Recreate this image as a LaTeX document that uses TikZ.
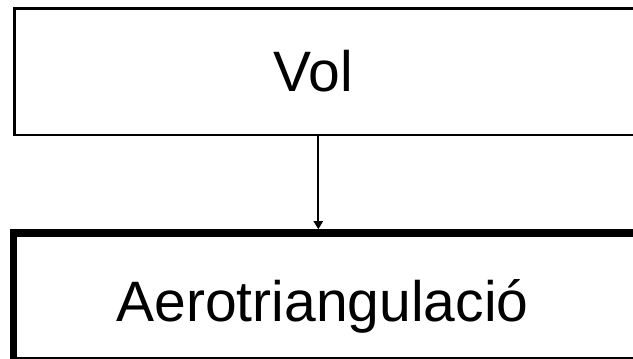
\documentclass[tikz,border=0pt]{standalone}
\usepackage{fontspec}
\setmainfont{Liberation Sans}
\usetikzlibrary{arrows.meta}
\usetikzlibrary{positioning}

\begin{document}
\begin{tikzpicture}[x=1pt,y=1pt,
      box/.style={draw,rectangle,inner sep=0pt},
      boxtext/.style={anchor=base,font=\fontsize{57}{60}\selectfont},
      arr/.style={-{Triangle[length=8pt,width=9pt]},line width=2pt},
    ]
        \useasboundingbox (0,0) rectangle (633,359);
        \clip (0,0) rectangle (633,359);
        % top box, runs out past the right edge
        \node[box,line width=2.5pt,minimum width=785.5pt,minimum height=126.5pt]
            (volbox) at (407.25,287.25) {};
        \node[boxtext] (vol) at (313.3,267) {Vol};
        % bottom box, thick border
        \node[box,line width=7.5pt,minimum width=786.5pt,minimum height=127.5pt]
            (aerobox) at (406.75,62.25) {};
        \node[boxtext] (aero) at (322.5,37) {Aerotriangulació};
        \coordinate (volarrow) at (318.3,0);
        \draw[arr] (volbox.south -| volarrow) -- (aerobox.north -| volarrow);
    \end{tikzpicture}
\end{document}
